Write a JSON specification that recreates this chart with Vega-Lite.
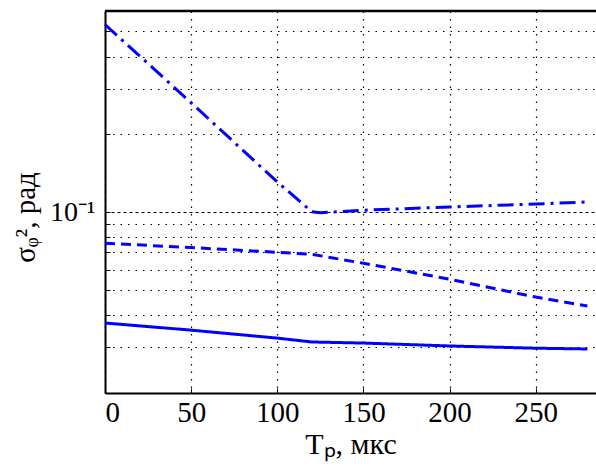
{
  "$schema": "https://vega.github.io/schema/vega-lite/v6.json",
  "width": 491,
  "height": 382,
  "autosize": {"type": "none"},
  "padding": {"left": 105, "top": 11, "right": 0, "bottom": 82},
  "background": "white",
  "config": {
    "view": {"stroke": null},
    "font": "Liberation Serif",
    "axis": {
      "labelFont": "Liberation Serif",
      "titleFont": "Liberation Serif",
      "labelColor": "black",
      "titleColor": "black",
      "titleFontWeight": "normal",
      "domainColor": "black",
      "domainWidth": 2,
      "tickColor": "black",
      "gridColor": "black",
      "gridOpacity": 1,
      "gridWidth": 1.2
    }
  },
  "data": {
    "values": [
      {"series": "solid", "t": 0, "s": 0.0373},
      {"series": "solid", "t": 50, "s": 0.0350},
      {"series": "solid", "t": 100, "s": 0.0326},
      {"series": "solid", "t": 120, "s": 0.0315},
      {"series": "solid", "t": 150, "s": 0.0312},
      {"series": "solid", "t": 200, "s": 0.0304},
      {"series": "solid", "t": 250, "s": 0.0298},
      {"series": "solid", "t": 280, "s": 0.0296},
      {"series": "dashed", "t": 0, "s": 0.0759},
      {"series": "dashed", "t": 50, "s": 0.0730},
      {"series": "dashed", "t": 100, "s": 0.0700},
      {"series": "dashed", "t": 120, "s": 0.0688},
      {"series": "dashed", "t": 150, "s": 0.0635},
      {"series": "dashed", "t": 200, "s": 0.0551},
      {"series": "dashed", "t": 250, "s": 0.0470},
      {"series": "dashed", "t": 280, "s": 0.0434},
      {"series": "dashdot", "t": 0, "s": 0.532},
      {"series": "dashdot", "t": 50, "s": 0.265},
      {"series": "dashdot", "t": 100, "s": 0.131},
      {"series": "dashdot", "t": 120, "s": 0.1005},
      {"series": "dashdot", "t": 125, "s": 0.0995},
      {"series": "dashdot", "t": 150, "s": 0.1018},
      {"series": "dashdot", "t": 200, "s": 0.1048},
      {"series": "dashdot", "t": 250, "s": 0.1076},
      {"series": "dashdot", "t": 280, "s": 0.1096}
    ]
  },
  "layer": [
    {
      "mark": {"type": "line", "color": "#0000ff", "strokeWidth": 3},
      "encoding": {
        "x": {
          "field": "t",
          "type": "quantitative",
          "scale": {"domain": [0, 285], "nice": false, "zero": false},
          "axis": {
            "values": [0, 50, 100, 150, 200, 250],
            "grid": true,
            "gridDash": [1.5, 6],
            "tickSize": -5,
            "labelFont": "Liberation Serif",
            "labelFontSize": 29,
            "labelPadding": 10,
            "title": "Tₚ, мкс",
            "titleFont": "Liberation Serif",
            "titleFontSize": 30,
            "titlePadding": 2
          }
        },
        "y": {
          "field": "s",
          "type": "quantitative",
          "scale": {"type": "log", "domain": [0.02, 0.6], "nice": false},
          "axis": {
            "values": [0.02, 0.03, 0.04, 0.05, 0.06, 0.07, 0.08, 0.09, 0.1, 0.2, 0.3, 0.4, 0.5],
            "labelExpr": "datum.value == 0.1 ? '10⁻¹' : ''",
            "grid": true,
            "gridDash": {"condition": {"test": "datum.value == 0.1", "value": [3, 3]}, "value": [1.5, 6]},
            "tickSize": -5,
            "labelFont": "Liberation Serif",
            "labelFontSize": 28,
            "labelPadding": 15,
            "title": "σᵩ², рад",
            "titleFont": "Liberation Serif",
            "titleFontSize": 29,
            "titleX": -80,
            "titleY": 206,
            "titleBaseline": "middle"
          }
        },
        "strokeDash": {
          "field": "series",
          "type": "nominal",
          "scale": {"domain": ["solid", "dashed", "dashdot"], "range": [[1, 0], [10, 6], [16, 6, 3, 6]]},
          "legend": null
        }
      }
    },
    {
      "data": {"values": [{"top": 0.6, "a": 0, "b": 285}]},
      "mark": {"type": "rule", "color": "black", "strokeWidth": 2.5, "clip": false},
      "encoding": {
        "x": {"field": "a", "type": "quantitative"},
        "x2": {"field": "b"},
        "y": {"field": "top", "type": "quantitative"}
      }
    }
  ]
}
